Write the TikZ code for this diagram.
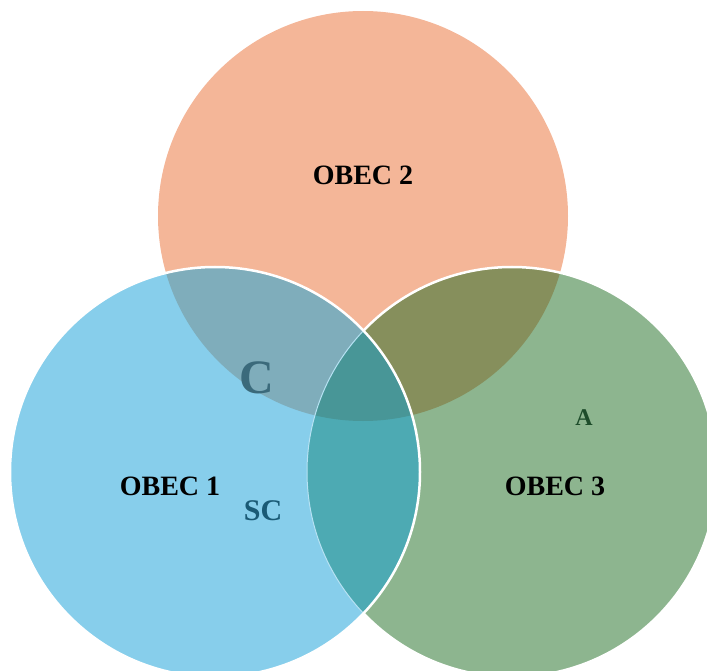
\documentclass[tikz,border=0pt]{standalone}
\usepackage{fontspec}
\setmainfont{Liberation Serif}
\definecolor{peach}{HTML}{F4B698}
\definecolor{skyb}{HTML}{87CEEB}
\definecolor{sage}{HTML}{8DB58F}
\definecolor{lt}{HTML}{7FADBB}
\definecolor{rt}{HTML}{868F5C}
\definecolor{lr}{HTML}{4DAAB3}
\definecolor{lrt}{HTML}{489697}
\definecolor{ctext}{HTML}{3B6A7B}
\definecolor{sctext}{HTML}{1A5A75}
\definecolor{atext}{HTML}{1E4D2B}
\tikzset{
  lbl/.style={inner sep=0pt, font=\bfseries\fontsize{28}{28}\selectfont, text=black},
  edge/.style={draw=white, line width=2.5pt},
}
\begin{document}
\begin{tikzpicture}[x=1pt,y=-1pt]
\useasboundingbox (0,0) rectangle (707,671);
\clip (0,0) rectangle (707,671);
\coordinate (cT) at (363,216);
\coordinate (cL) at (215,472);
\coordinate (cR) at (512,472);
\def\rr{205pt}
% top circle
\fill[peach] (cT) circle[radius=\rr];
% right circle
\fill[sage] (cR) circle[radius=\rr];
\begin{scope}
  \clip (cT) circle[radius=\rr];
  \fill[rt] (cR) circle[radius=\rr];
\end{scope}
\draw[edge] (cR) circle[radius=\rr];
% left circle
\fill[skyb] (cL) circle[radius=\rr];
\begin{scope}
  \clip (cL) circle[radius=\rr];
  \fill[lt] (cT) circle[radius=\rr];
  \fill[lr] (cR) circle[radius=\rr];
  \begin{scope}
    \clip (cR) circle[radius=\rr];
    \fill[lrt] (cT) circle[radius=\rr];
  \end{scope}
  \draw[color=skyb!60!white, line width=1pt] (cR) circle[radius=\rr];
\end{scope}
\draw[edge] (cL) circle[radius=\rr];
% labels
\node[lbl] (t2) at (363,175) {OBEC 2};
\node[lbl] (t1) at (170,486) {OBEC 1};
\node[lbl] (t3) at (555,486) {OBEC 3};
\node[inner sep=0pt, font=\bfseries\fontsize{48}{48}\selectfont, text=ctext] (tc) at (257,378) {C};
\node[inner sep=0pt, font=\bfseries\fontsize{30}{30}\selectfont, text=sctext] (tsc) at (263,511) {SC};
\node[inner sep=0pt, font=\bfseries\fontsize{24}{24}\selectfont, text=atext] (ta) at (584,418) {A};
\end{tikzpicture}
\end{document}
